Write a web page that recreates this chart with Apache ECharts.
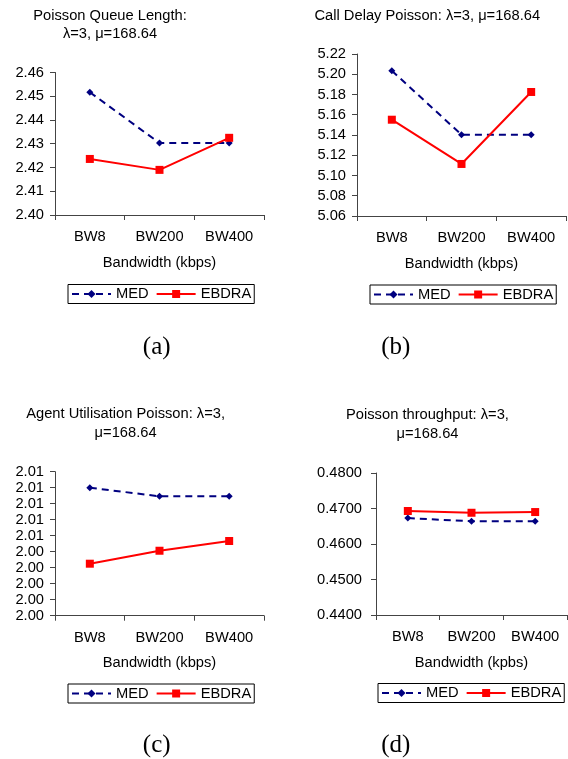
<!DOCTYPE html>
<html><head><meta charset="utf-8">
<script src="https://cdn.jsdelivr.net/npm/echarts@6/dist/echarts.min.js"></script>
<style>html,body{margin:0;padding:0;background:#fff}#c{width:568px;height:759px}</style>
</head><body><div id="c"></div>
<script>
const categories = ['BW8', 'BW200', 'BW400'];
const queueMED = [2.4517, 2.4303, 2.4303];
const queueEBDRA = [2.4236, 2.4190, 2.4325];
const delayMED = [5.2035, 5.1403, 5.1403];
const delayEBDRA = [5.1551, 5.1114, 5.1825];
const utilMED = [2.0080, 2.00746, 2.00746];
const utilEBDRA = [2.00325, 2.00406, 2.00467];
const thrMED = [0.4673, 0.4664, 0.4664];
const thrEBDRA = [0.4693, 0.4688, 0.4690];
const queueTicks = ['2.40', '2.41', '2.42', '2.43', '2.44', '2.45', '2.46'];
const delayTicks = ['5.06', '5.08', '5.10', '5.12', '5.14', '5.16', '5.18', '5.20', '5.22'];
const utilTicks = ['2.00', '2.00', '2.00', '2.00', '2.00', '2.01', '2.01', '2.01', '2.01', '2.01'];
const thrTicks = ['0.4400', '0.4500', '0.4600', '0.4700', '0.4800'];

const FONT = 'Liberation Sans, Arial, sans-serif';
const FS = 14.7;
const AX = '#444';

const grids = [
  {left: 55, top: 72.5, width: 209, height: 142.5},
  {left: 357, top: 54, width: 209, height: 162},
  {left: 55, top: 471.7, width: 209, height: 144},
  {left: 376, top: 473, width: 191, height: 142}
];
const xNames = ['Bandwidth (kbps)', 'Bandwidth (kbps)', 'Bandwidth (kbps)', 'Bandwidth (kpbs)'];
const yCfg = [
  {min: 2.40, max: 2.46, interval: 0.01, labels: queueTicks},
  {min: 5.06, max: 5.22, interval: 0.02, labels: delayTicks},
  {min: 2.000, max: 2.009, interval: 0.001, labels: utilTicks},
  {min: 0.44, max: 0.48, interval: 0.01, labels: thrTicks}
];
const medData = [queueMED, delayMED, utilMED, thrMED];
const ebdraData = [queueEBDRA, delayEBDRA, utilEBDRA, thrEBDRA];

const xAxis = grids.map((g, i) => ({
  type: 'category', gridIndex: i, data: categories, boundaryGap: true,
  axisLine: {lineStyle: {color: AX, width: 1}},
  axisTick: {show: true, length: 5, alignWithLabel: false, lineStyle: {color: AX}},
  axisLabel: {color: '#000', fontFamily: FONT, fontSize: FS, margin: 14.5},
  name: xNames[i], nameLocation: 'middle', nameGap: 40,
  nameTextStyle: {color: '#000', fontFamily: FONT, fontSize: FS},
  splitLine: {show: false}
}));
const yAxis = yCfg.map((c, i) => ({
  type: 'value', gridIndex: i, min: c.min, max: c.max, interval: c.interval,
  axisLine: {show: true, lineStyle: {color: AX, width: 1}},
  axisTick: {show: true, length: 5, lineStyle: {color: AX}},
  axisLabel: {color: '#000', fontFamily: FONT, fontSize: FS, margin: i === 3 ? 14 : 11,
    formatter: (v, idx) => c.labels[idx]},
  splitLine: {show: false}
}));
const series = [];
for (let i = 0; i < 4; i++) {
  series.push({
    name: 'MED', type: 'line', xAxisIndex: i, yAxisIndex: i, data: medData[i],
    symbol: 'diamond', symbolSize: 7, showAllSymbol: true,
    lineStyle: {color: '#000080', width: 2, type: [7, 5]},
    itemStyle: {color: '#000080'}, animation: false
  });
  series.push({
    name: 'EBDRA', type: 'line', xAxisIndex: i, yAxisIndex: i, data: ebdraData[i],
    symbol: 'rect', symbolSize: 8,
    lineStyle: {color: '#ff0000', width: 2},
    itemStyle: {color: '#ff0000'}, animation: false
  });
}
const legendPos = [[68, 284.5], [370, 285], [68, 684], [378, 683.5]];
const legend = legendPos.map(p => ({
  data: ['MED', 'EBDRA'], left: p[0], top: p[1], orient: 'horizontal',
  itemWidth: 39, itemHeight: 10, itemGap: 7, padding: [2, 3],
  borderColor: '#000', borderWidth: 1, selectedMode: false,
  textStyle: {color: '#000', fontFamily: FONT, fontSize: FS}
}));
function txt(x, y, text, size, family, lh) {
  return {type: 'text', x: x, y: y, silent: true,
    style: {text: text, fill: '#000', font: size + 'px ' + family,
      align: 'center', verticalAlign: 'middle', textAlign: 'center', textVerticalAlign: 'middle',
      lineHeight: lh || size * 1.3}};
}
const graphic = [
  txt(110, 24.5, 'Poisson Queue Length:\nλ=3, μ=168.64', FS, FONT, 18),
  txt(427.3, 15.5, 'Call Delay Poisson: λ=3, μ=168.64', FS, FONT),
  txt(125.6, 423.5, 'Agent Utilisation Poisson: λ=3,\nμ=168.64', FS, FONT, 19.5),
  txt(427.5, 424, 'Poisson throughput: λ=3,\nμ=168.64', FS, FONT, 19),
  txt(156.7, 347, '(a)', 25, 'Liberation Serif, Times New Roman, serif'),
  txt(395.8, 347, '(b)', 25, 'Liberation Serif, Times New Roman, serif'),
  txt(156.7, 745, '(c)', 25, 'Liberation Serif, Times New Roman, serif'),
  txt(395.8, 745, '(d)', 25, 'Liberation Serif, Times New Roman, serif')
];
const chart = echarts.init(document.getElementById('c'), null, {renderer: 'canvas'});
chart.setOption({
  animation: false, backgroundColor: '#fff',
  grid: grids, xAxis: xAxis, yAxis: yAxis, series: series, legend: legend, graphic: graphic
});
</script></body></html>
